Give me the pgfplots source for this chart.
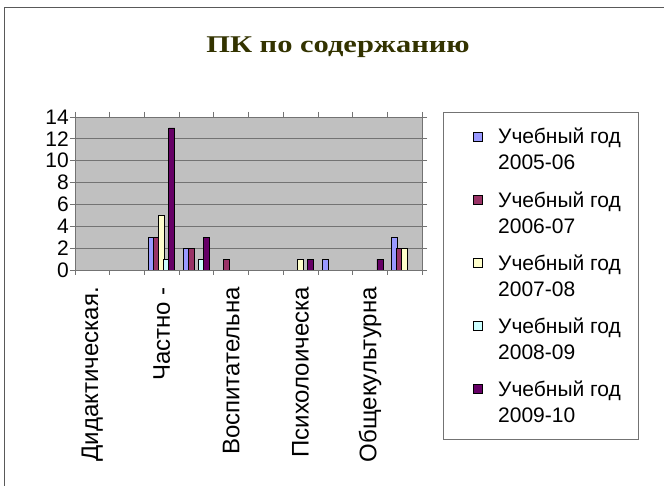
\documentclass[border=0pt]{standalone}
\usepackage{fontspec}
\setmainfont{Liberation Sans}
\newfontfamily\titlefont{Liberation Serif}
\usepackage{pgfplots}
\pgfplotsset{compat=1.18}
\definecolor{sA}{HTML}{9999FF}
\definecolor{sB}{HTML}{993366}
\definecolor{sC}{HTML}{FFFFCC}
\definecolor{sD}{HTML}{CCFFFF}
\definecolor{sE}{HTML}{660066}
\definecolor{plotbg}{HTML}{C0C0C0}
\definecolor{titlecol}{HTML}{333300}
\begin{document}
\begin{tikzpicture}
\useasboundingbox (0pt,0pt) rectangle (664pt,486pt);
\fill[white] (0pt,0pt) rectangle (664pt,486pt);
\draw[color=black!65, line width=1pt] (4pt,0pt) -- (4pt,478pt) -- (664pt,478pt);
\node[font=\titlefont\bfseries\fontsize{24}{26}\selectfont, text=titlecol, xscale=1.27] at (338pt,439pt) {ПК по содержанию};
\begin{axis}[
  at={(75pt,216pt)}, anchor=south west,
  scale only axis, width=347pt, height=153pt,
  xmin=0, xmax=10, ymin=0, ymax=14,
  axis background/.style={fill=plotbg},
  axis line style={color=black!55, line width=0.8pt},
  ybar, bar width=6pt,
  ytick={0,2,...,14},
  ymajorgrids, grid style={color=black!55, line width=0.8pt},
  xtick={0,...,10}, xticklabels={},
  extra x ticks={0.5,2.5,4.5,6.5,8.5},
  extra x tick labels={Дидактическая.,Частно -,Воспитательна,Психолоическа,Общекультурна},
  extra x tick style={major tick length=0pt, grid=none,
    tick label style={rotate=90, anchor=east, inner sep=0pt, xshift=-17pt}},
  tick align=outside, major tick length=5pt,
  tick style={color=black!55, line width=0.8pt},
  xticklabel style={font=\fontsize{24}{26}\selectfont},
  yticklabel style={font=\fontsize{21}{22}\selectfont, inner sep=1pt},
  /pgf/number format/assume math mode=true,
  legend style={at={(1,1)}, anchor=north west, xshift=21pt, yshift=5pt,
    draw=black!55, line width=0.8pt, inner xsep=18pt, inner ysep=16pt,
    font=\fontsize{21}{26}\selectfont, row sep=20pt, column sep=0pt,
    nodes={inner sep=0pt},
    cells={align=left, anchor=west}},
  legend cell align=left,
  legend image code/.code={\path (0pt,0pt) (36pt,0pt); \draw[#1, draw=black, line width=0.8pt] (12pt,8.5pt) rectangle (21pt,17.5pt);},
]
\addplot[fill=sA, draw=black, line width=0.8pt, bar shift=-10pt] coordinates {(2.5,3) (3.5,2) (7.5,1) (9.5,3)};
\addplot[fill=sB, draw=black, line width=0.8pt, bar shift=-5pt] coordinates {(2.5,3) (3.5,2) (4.5,1) (9.5,2)};
\addplot[fill=sC, draw=black, line width=0.8pt, bar shift=0pt] coordinates {(2.5,5) (6.5,1) (9.5,2)};
\addplot[fill=sD, draw=black, line width=0.8pt, bar shift=5pt] coordinates {(2.5,1) (3.5,1)};
\addplot[fill=sE, draw=black, line width=0.8pt, bar shift=10pt] coordinates {(2.5,13) (3.5,3) (6.5,1) (8.5,1)};
\legend{{Учебный год\\2005-06},{Учебный год\\2006-07},{Учебный год\\2007-08},{Учебный год\\2008-09},{Учебный год\\2009-10}}
\end{axis}
\end{tikzpicture}
\end{document}
